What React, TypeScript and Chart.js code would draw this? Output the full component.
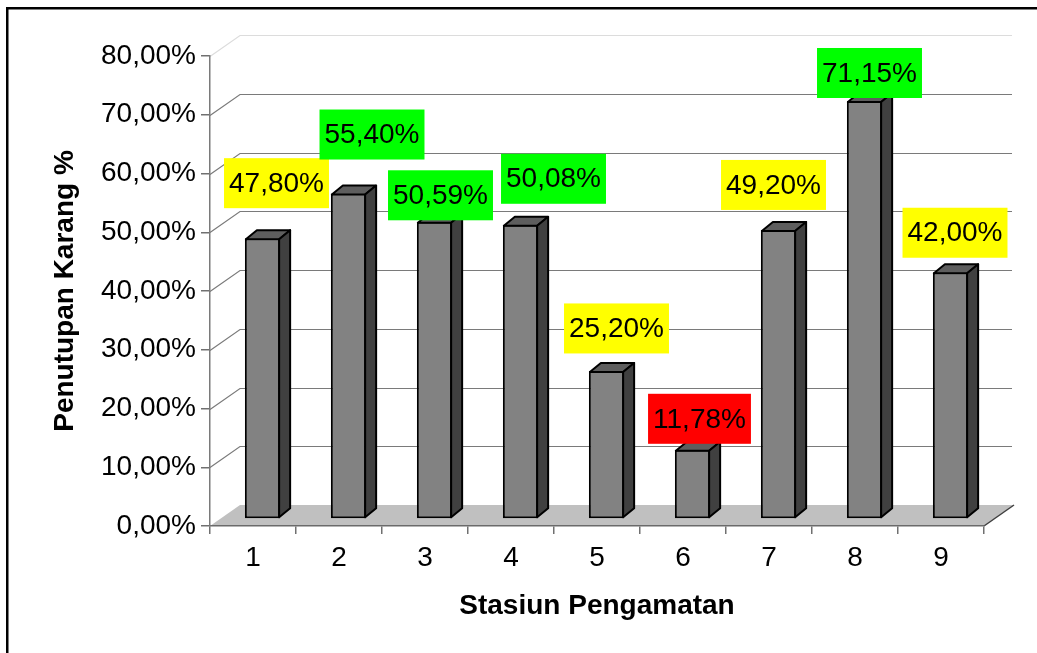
import React, { useEffect, useRef } from 'react';
import { Chart, registerables } from 'chart.js';

Chart.register(...registerables);

// ---- data ----
const categories = ['1', '2', '3', '4', '5', '6', '7', '8', '9'];
const coverValues = [47.8, 55.4, 50.59, 50.08, 25.2, 11.78, 49.2, 71.15, 42.0];
const yTickValues = [0, 10, 20, 30, 40, 50, 60, 70, 80];
const xTitle = 'Stasiun Pengamatan';
const yTitle = 'Penutupan Karang %';

// ---- label placement (offsets from each bar's top-centre, px) ----
const labelOffsets: number[][] = [
  [14, -55], [23.5, -59], [6, -26.5], [33, -46], [10, -42.5],
  [7, -31], [-5, -45], [5, -28], [4.5, -39.5],
];

const FONT = "'Liberation Sans', Arial, Helvetica, sans-serif";
const WALL_DX = 30, WALL_DY = -21;   // back wall offset
const BAR_DX = 9.5, BAR_DY = -7;     // bar front-face offset
const DEPTH_DX = 11, DEPTH_DY = -9;  // bar depth

const fmt = (v: number) => v.toFixed(2).replace('.', ',') + '%';
const labelColor = (v: number) => (v >= 50 ? '#00ff00' : v >= 20 ? '#ffff00' : '#ff0000');

const scene3d = {
  id: 'scene3d',
  beforeDraw(chart: any) {
    const ctx = chart.ctx;
    const { left, right } = chart.chartArea;
    const ys = chart.scales.y;
    ctx.save();
    // outer frame
    ctx.fillStyle = '#000';
    ctx.fillRect(6, 7, 2.5, 700);
    ctx.fillRect(6, 7, 1100, 2.5);
    // floor
    const y0 = ys.getPixelForValue(0);
    ctx.fillStyle = '#c0c0c0';
    ctx.beginPath();
    ctx.moveTo(left, y0);
    ctx.lineTo(right, y0);
    ctx.lineTo(right + WALL_DX, y0 + WALL_DY);
    ctx.lineTo(left + WALL_DX, y0 + WALL_DY);
    ctx.closePath();
    ctx.fill();
    ctx.strokeStyle = '#404040';
    ctx.lineWidth = 1.5;
    ctx.beginPath();
    ctx.moveTo(right, y0);
    ctx.lineTo(right + WALL_DX, y0 + WALL_DY);
    ctx.stroke();
    // back wall gridlines + left wall diagonals
    yTickValues.forEach((v, i) => {
      if (v === 0) return;
      const py = Math.round(ys.getPixelForValue(v)) + 0.5;
      ctx.strokeStyle = i === yTickValues.length - 1 ? '#dcdcdc' : '#7a7a7a';
      ctx.lineWidth = 1.2;
      ctx.beginPath();
      ctx.moveTo(left, py);
      ctx.lineTo(left + WALL_DX, py + WALL_DY);
      ctx.lineTo(right + WALL_DX - 2, py + WALL_DY);
      ctx.stroke();
    });
    ctx.restore();
  },
  beforeDatasetsDraw(chart: any) {
    chart.ctx.save();
    chart.ctx.translate(BAR_DX, BAR_DY);
  },
  afterDatasetsDraw(chart: any) {
    const ctx = chart.ctx;
    const meta = chart.getDatasetMeta(0);
    ctx.lineWidth = 2;
    ctx.lineJoin = 'round';
    ctx.strokeStyle = '#000';
    meta.data.forEach((el: any) => {
      const { x, y, base, width } = el.getProps(['x', 'y', 'base', 'width'], true);
      const L = x - width / 2 + 1, R = x + width / 2 - 1, T = y + 1, B = base - 1;
      // top face
      ctx.fillStyle = '#5e5e5e';
      ctx.beginPath();
      ctx.moveTo(L, T);
      ctx.lineTo(R, T);
      ctx.lineTo(R + DEPTH_DX, T + DEPTH_DY);
      ctx.lineTo(L + DEPTH_DX, T + DEPTH_DY);
      ctx.closePath();
      ctx.fill();
      ctx.stroke();
      // side face
      ctx.fillStyle = '#404040';
      ctx.beginPath();
      ctx.moveTo(R, T);
      ctx.lineTo(R + DEPTH_DX, T + DEPTH_DY);
      ctx.lineTo(R + DEPTH_DX, B + DEPTH_DY);
      ctx.lineTo(R, B);
      ctx.closePath();
      ctx.fill();
      ctx.stroke();
    });
    ctx.restore();
  },
  afterDraw(chart: any) {
    const ctx = chart.ctx;
    const meta = chart.getDatasetMeta(0);
    ctx.save();
    ctx.font = `28px ${FONT}`;
    ctx.textAlign = 'center';
    ctx.textBaseline = 'middle';
    meta.data.forEach((el: any, i: number) => {
      const v = coverValues[i];
      const text = fmt(v);
      const off = labelOffsets[i];
      const cx = el.x + BAR_DX + off[0];
      const cy = el.y + BAR_DY + off[1];
      const w = ctx.measureText(text).width + 10;
      const h = 50;
      ctx.fillStyle = labelColor(v);
      ctx.fillRect(cx - w / 2, cy - h / 2, w, h);
      ctx.fillStyle = '#000';
      ctx.fillText(text, cx, cy + 1);
    });
    ctx.restore();
  },
};

export default function App() {
  const ref = useRef<HTMLCanvasElement>(null);
  useEffect(() => {
    Chart.defaults.font.family = FONT;
    const chart = new Chart(ref.current as HTMLCanvasElement, {
      type: 'bar',
      data: {
        labels: categories,
        datasets: [
          {
            data: coverValues,
            backgroundColor: '#828282',
            borderColor: '#000',
            borderWidth: 2,
            borderSkipped: false,
            categoryPercentage: 1,
            barPercentage: 0.41,
            clip: false as any,
          },
        ],
      },
      options: {
        responsive: false,
        animation: false,
        devicePixelRatio: 1,
        layout: { padding: { top: 56, right: 53, left: 0, bottom: 0 } },
        plugins: { legend: { display: false }, tooltip: { enabled: false } },
        scales: {
          x: {
            type: 'category',
            grid: { offset: true, drawOnChartArea: false, drawTicks: true, tickLength: 8, color: '#707070', lineWidth: 1.5 },
            border: { color: '#6a6a6a', width: 1.5 },
            ticks: { color: '#000', font: { size: 28, family: FONT }, padding: 7, autoSkip: false, maxRotation: 0 },
            title: { display: true, text: xTitle, color: '#000', font: { size: 28, weight: 'bold', family: FONT }, padding: { top: 0, bottom: 30 } },
            afterFit: (s: any) => { s.height = 127; },
          },
          y: {
            type: 'linear',
            min: 0,
            max: 80,
            grid: { drawOnChartArea: false, drawTicks: true, tickLength: 9, color: '#707070', lineWidth: 1.5 },
            border: { color: '#7a7a7a', width: 1.5 },
            afterBuildTicks: (s: any) => { s.ticks = yTickValues.map((v) => ({ value: v })); },
            ticks: { color: '#000', font: { size: 28, family: FONT }, padding: 5, autoSkip: false, callback: (v: any) => fmt(Number(v)) },
            title: { display: true, text: yTitle, color: '#000', font: { size: 28, weight: 'bold', family: FONT }, padding: { top: 48, bottom: 0 } },
            afterFit: (s: any) => { s.width = 210; },
          },
        },
      },
      plugins: [scene3d],
    });
    return () => chart.destroy();
  }, []);
  return (
    <div style={{ position: 'fixed', left: 0, top: 0, width: 1037, height: 653, background: '#fff' }}>
      <canvas ref={ref} width={1037} height={653} style={{ display: 'block', width: 1037, height: 653 }} />
    </div>
  );
}
